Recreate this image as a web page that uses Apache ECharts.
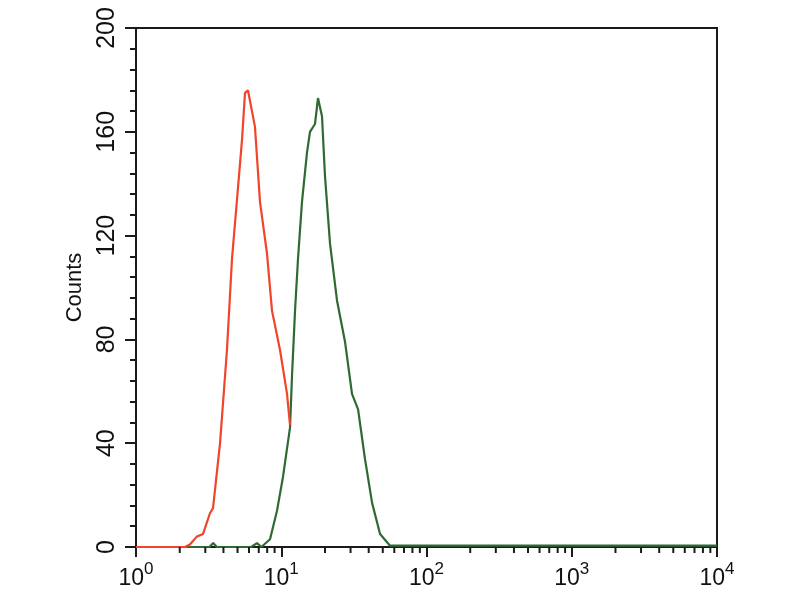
<!DOCTYPE html>
<html>
<head>
<meta charset="utf-8">
<script src="https://cdn.jsdelivr.net/npm/echarts@6/dist/echarts.min.js"></script>
<style>
  html, body { margin: 0; padding: 0; background: #fff; }
  #chart { width: 800px; height: 600px; }
</style>
</head>
<body>
<div id="chart"></div>
<script>
// 数据：荧光强度 (log) / 计数
const redSeries = [
  [1, 0], [2.17, 0], [2.35, 1], [2.62, 4], [2.89, 5], [3.23, 13], [3.39, 15],
  [3.79, 40], [4.23, 76], [4.58, 111], [4.96, 134], [5.37, 157], [5.63, 175],
  [5.9, 176], [6.59, 162], [7.14, 133], [7.98, 113], [8.64, 91], [9.8, 76],
  [10.96, 59], [11.49, 47]
];
const greenSeries = [
  [1, 0], [3.2, 0], [3.4, 1.5], [3.6, 0], [6.2, 0], [6.81, 1.5], [7.3, 0],
  [7.48, 0], [8.37, 3], [9.35, 14], [10.28, 27], [11.49, 46], [11.86, 66],
  [12.44, 91], [13.04, 111], [13.89, 133], [15.04, 152], [15.77, 160],
  [17.07, 163], [17.9, 173], [19.08, 166], [20.0, 143], [21.66, 117],
  [24.2, 95], [27.5, 79], [30.7, 59], [33.8, 53], [37.7, 34], [42.2, 17],
  [47.9, 5], [56.1, 0.5], [10000, 0.5]
];
const yTicks = [0, 40, 80, 120, 160, 200];
const decades = [1, 10, 100, 1000];
// log 次刻度 2..9
const minorTickValues = [];
decades.forEach(d => {
  for (let k = 2; k <= 9; k++) minorTickValues.push([d * k, 0]);
});

const chart = echarts.init(document.getElementById('chart'));
const font = '"Liberation Sans", Arial, sans-serif';

const option = {
  backgroundColor: '#fff',
  animation: false,
  grid: {
    left: 136, right: 83, top: 28, bottom: 53,
    show: true, borderColor: '#1a1a1a', borderWidth: 2
  },
  xAxis: {
    type: 'log', logBase: 10, min: 1, max: 10000,
    axisLine: { show: true, lineStyle: { color: '#1a1a1a', width: 2 } },
    axisTick: { show: true, length: 10, lineStyle: { color: '#1a1a1a', width: 2 } },
    splitLine: { show: false },
    axisLabel: {
      margin: 14,
      color: '#111',
      fontFamily: font,
      fontSize: 23,
      formatter: v => '{b|10}{s|' + Math.round(Math.log10(v)) + '}',
      rich: {
        b: { fontSize: 23, fontFamily: font, color: '#111', verticalAlign: 'bottom' },
        s: { fontSize: 17, fontFamily: font, color: '#111', verticalAlign: 'top', padding: [0, 0, 12, 0] }
      }
    }
  },
  yAxis: {
    type: 'value', min: 0, max: yTicks[yTicks.length - 1], interval: 40,
    name: 'Counts', nameLocation: 'middle', nameRotate: 90, nameGap: 50,
    nameMoveOverlap: false,
    nameTextStyle: { fontSize: 22, fontFamily: font, color: '#111' },
    axisLine: { show: true, lineStyle: { color: '#1a1a1a', width: 2 } },
    axisTick: { show: true, length: 11, lineStyle: { color: '#1a1a1a', width: 2 } },
    minorTick: { show: true, splitNumber: 5, length: 6, lineStyle: { color: '#1a1a1a', width: 2 } },
    splitLine: { show: false },
    axisLabel: {
      rotate: 90, margin: 16, fontSize: 25, fontFamily: font, color: '#111'
    }
  },
  series: [
    {
      name: 'green', type: 'line', data: greenSeries, showSymbol: false,
      lineStyle: { color: '#2f6a33', width: 2.2 }, z: 3
    },
    {
      name: 'red', type: 'line', data: redSeries, showSymbol: false,
      lineStyle: { color: '#f0452b', width: 2.2 }, z: 4
    },
    {
      type: 'custom', data: minorTickValues, clip: false, silent: true, z: 5,
      renderItem: (params, api) => {
        const p = api.coord([api.value(0), 0]);
        return {
          type: 'line',
          shape: { x1: p[0], y1: p[1], x2: p[0], y2: p[1] + 6 },
          style: { stroke: '#1a1a1a', lineWidth: 2 }
        };
      }
    }
  ]
};
chart.setOption(option);
</script>
</body>
</html>
